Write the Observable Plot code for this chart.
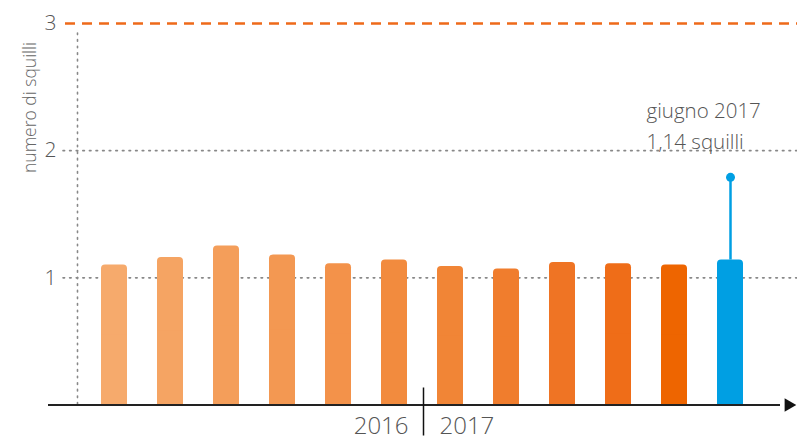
<!DOCTYPE html>
<html><head><meta charset="utf-8">
<script src="https://cdn.jsdelivr.net/npm/d3@7"></script>
<script src="https://cdn.jsdelivr.net/npm/@observablehq/plot@0.6"></script>
<style>body{margin:0;background:#fff}</style>
</head><body><div id="chart"></div>
<script>
const months = ["lug 2016","ago 2016","set 2016","ott 2016","nov 2016","dic 2016","gen 2017","feb 2017","mar 2017","apr 2017","mag 2017","giu 2017"];
const values = [1.10,1.16,1.25,1.18,1.11,1.14,1.09,1.07,1.12,1.11,1.10,1.14];
const colors = ["#f6aa6c","#f5a463","#f49e5a","#f39852","#f3924a","#f28b3e","#f18536","#f07d2d","#ef7424","#ef6d18","#ee6500","#009fe3"];
const highlightMonth = ["giu 2017"];
const highlightMax = [1.79];
const highlightLabel = ["giugno 2017\n1,14 squilli"];
const yTicks = [1, 2, 3];
const gridTicks = [1, 2];
const targetValue = [3];
const years = ["2016", "2017"];
const yearLastMonth = ["dic 2016", "gen 2017"];
const yLabel = "numero di squilli";

const data = months.map((m, i) => ({month: m, value: values[i], color: colors[i]}));
const hl = highlightMonth.map((m, i) => ({month: m, value: values[months.indexOf(m)], max: highlightMax[i], label: highlightLabel[i]}));
const yearData = years.map((y, i) => ({year: y, month: yearLastMonth[i]}));

const textColor = "#555";
const chart = Plot.plot({
  width: 797,
  height: 441,
  marginLeft: 76,
  marginRight: 0,
  marginTop: 23,
  marginBottom: 36.5,
  style: {fontFamily: "'Open Sans', sans-serif", fontWeight: 300, background: "#fff"},
  x: {type: "band", domain: months, range: [72, 772], paddingInner: 0.537, paddingOuter: 0.5, axis: null},
  y: {domain: [0, 3], axis: null},
  marks: [
    Plot.ruleY(gridTicks, {stroke: "#888", strokeWidth: 1.6, strokeDasharray: "1.6,5", strokeLinecap: "round", insetLeft: -13}),
    Plot.ruleX([months[0]], {dx: -37, insetTop: 10, stroke: "#888", strokeWidth: 1.6, strokeDasharray: "1.6,5", strokeLinecap: "round"}),
    Plot.ruleY(targetValue, {stroke: "#ee6a1a", strokeWidth: 2.5, strokeDasharray: "10,7", insetLeft: -11}),
    Plot.barY(data, {x: "month", y: "value", fill: "color", rx: 4}),
    Plot.barY(data, {x: "month", y1: 0, y2: d => d.value / 2, fill: "color"}),
    Plot.ruleX(hl, {x: "month", y1: "value", y2: "max", stroke: "#009fe3", strokeWidth: 2.5}),
    Plot.dot(hl, {x: "month", y: "max", r: 4.5, fill: "#009fe3"}),
    Plot.text(hl, {x: "month", y: "max", text: "label", textAnchor: "start", lineAnchor: "middle", lineHeight: 1.5, dx: -84, dy: -54, fontSize: 20.5, fill: textColor}),
    Plot.ruleY([0], {stroke: "#222", strokeWidth: 2, insetLeft: -28, insetRight: 17}),
    Plot.dot([0], {y: d => d, frameAnchor: "right", dx: -9, symbol: "triangle", rotate: 90, r: 5, fill: "#111"}),
    Plot.ruleX([months[5]], {y1: 0, y2: 0, dx: 29, insetTop: -17, insetBottom: -31, stroke: "#111", strokeWidth: 1.5}),
    Plot.text(yearData.slice(0, 1), {x: "month", y: () => 0, text: "year", textAnchor: "end", dx: 14, dy: 21, fontSize: 24, fill: textColor}),
    Plot.text(yearData.slice(1), {x: "month", y: () => 0, text: "year", textAnchor: "start", dx: -11, dy: 21, fontSize: 24, fill: textColor}),
    Plot.axisY({ticks: yTicks, tickFormat: "d", tickSize: 0, tickPadding: 20, fontSize: 21, label: null, color: textColor}),
    Plot.text([yLabel], {frameAnchor: "top-left", text: d => d, rotate: -90, textAnchor: "middle", dx: -53, dy: 84, fontSize: 17.5, fill: "#666"})
  ]
});
document.getElementById("chart").appendChild(chart);
</script>
</body></html>
